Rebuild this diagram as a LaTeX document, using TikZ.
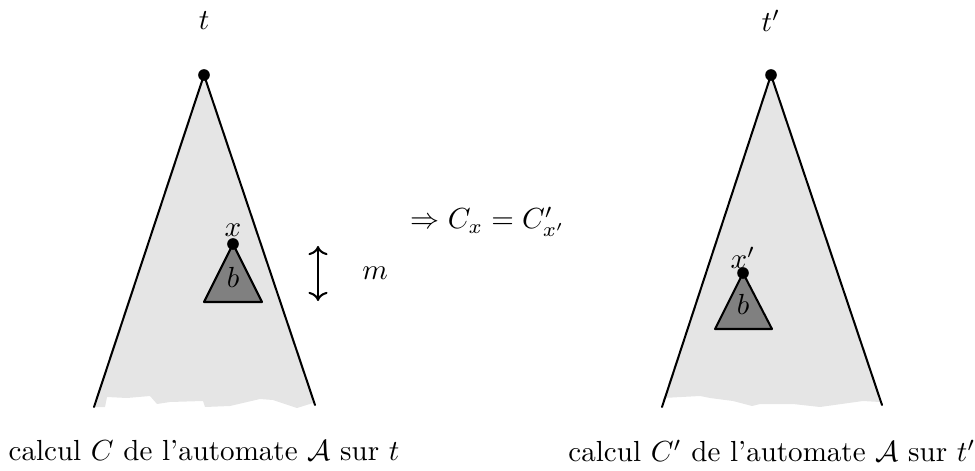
\documentclass[tikz,border=0pt]{standalone}
\usepackage{amsfonts,amsmath,amssymb}
\usepackage{tikz}
\usetikzlibrary{arrows.meta}
\tikzset{
  every picture/.style={line join=round, line cap=round, >=Stealth},
  root/.style={circle, fill=black, inner sep=0pt, minimum size=4pt},
  cone/.style={fill=black!10},
  side/.style={line width=0.7pt},
  subtree/.style={draw, line width=0.7pt, fill=black!50},
}

\begin{document}
\begin{tikzpicture}[x=0.0121cm,y=-0.0121cm]
\useasboundingbox (0,0) rectangle (975,471);
% t
\begin{scope}
\fill[cone] (204,75) -- (94,407) -- (105,407) -- (107,397) -- (127,398) -- (150,396)
  -- (157,404) -- (170,402) -- (203,401) -- (205,407) -- (230,406) -- (260,399)
  -- (273,400) -- (297,408) -- (313,403) -- (315,405) -- cycle;
\draw[side] (94,407) -- (204,75) -- (315,405);
\node[root] (r) at (204,75) {};
\node (t) at (204,21) {$t$};
\draw[subtree] (233,244) -- (204,302) -- (262,302) -- cycle;
\node[root] (x) at (233,244) {};
\node (lx) at (233,230) {$x$};
\node (b) at (233,277) {$b$};
\node (cap) at (204,451) {calcul $C$ de l'automate $\mathcal{A}$ sur $t$};
\end{scope}
% m
\coordinate (mtop) at (318,246);
\coordinate (mbot) at (318,301);
\draw[{To}-{To}, line width=0.7pt] (mtop) -- (mbot);
\node (m) at (375,273) {$m$};
\node (eq) at (488,222) {$\Rightarrow C_x = C'_{x'}$};
% t'
\begin{scope}
\fill[cone] (771,75) -- (662,407) -- (663,398) -- (700,396) -- (710,398) -- (733,401)
  -- (752,406) -- (760,404) -- (793,404) -- (820,407) -- (863,401) -- (880,402)
  -- (882,405) -- cycle;
\draw[side] (662,407) -- (771,75) -- (882,405);
\node[root] (r') at (771,75) {};
\node (t') at (771,21) {$t'$};
\draw[subtree] (743,273) -- (715,329) -- (772,329) -- cycle;
\node[root] (x') at (743,273) {};
\node (lx') at (743,258) {$x'$};
\node (b') at (743,304) {$b$};
\node (cap') at (772,451) {calcul $C'$ de l'automate $\mathcal{A}$ sur $t'$};
\end{scope}
\end{tikzpicture}
\end{document}
